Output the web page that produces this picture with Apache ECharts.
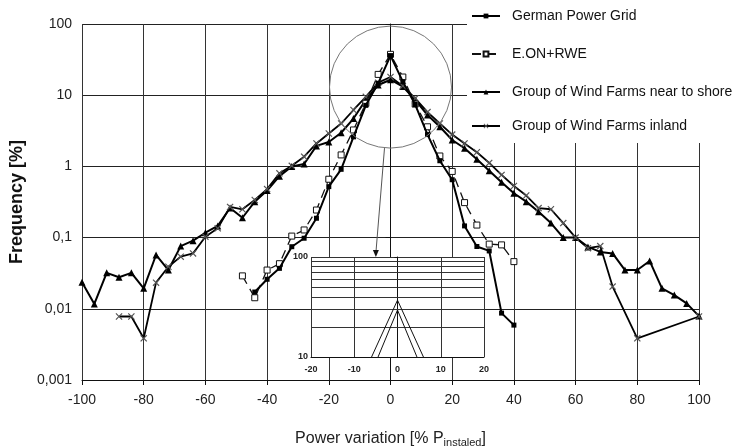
<!DOCTYPE html>
<html>
<head>
<meta charset="utf-8">
<script src="https://cdn.jsdelivr.net/npm/echarts@6/dist/echarts.min.js"></script>
<style>
  html, body { margin: 0; padding: 0; background: #fff; }
  #chart { width: 737px; height: 448px; }
</style>
</head>
<body>
<div id="chart"></div>
<script>
// x positions (% P installed) and frequencies (%)
const xGerman = [-44, -40, -36, -32, -28, -24, -20, -16, -12, -8, -4, 0, 4, 8, 12, 16, 20, 24, 28, 32, 36, 40]
const german = [0.0172, 0.026, 0.037, 0.0745, 0.098, 0.187, 0.52, 0.91, 2.6, 7.2, 14.7, 36, 15.5, 7.4, 2.8, 1.2, 0.65, 0.146, 0.075, 0.065, 0.0087, 0.0059]

const xEon = [-48, -44, -40, -36, -32, -28, -24, -20, -16, -12, -8, -4, 0, 4, 8, 12, 16, 20, 24, 28, 32, 36, 40]
const eon = [0.029, 0.0143, 0.035, 0.043, 0.105, 0.128, 0.244, 0.66, 1.45, 3.25, 7.7, 19.6, 37.5, 18, 7.5, 3.6, 1.4, 0.85, 0.31, 0.15, 0.081, 0.079, 0.046]

const xShore = [-100, -96, -92, -88, -84, -80, -76, -72, -68, -64, -60, -56, -52, -48, -44, -40, -36, -32, -28, -24, -20, -16, -12, -8, -4, 0, 4, 8, 12, 16, 20, 24, 28, 32, 36, 40, 44, 48, 52, 56, 60, 64, 68, 72, 76, 80, 84, 88, 92, 96, 100]
const shore = [0.0236, 0.0117, 0.032, 0.0277, 0.032, 0.0194, 0.057, 0.035, 0.076, 0.0906, 0.117, 0.146, 0.26, 0.19, 0.32, 0.457, 0.73, 1.0, 1.08, 1.94, 2.2, 2.97, 4.7, 8.6, 13.9, 16.5, 13.2, 8.6, 5.27, 3.6, 2.35, 1.8, 1.26, 0.87, 0.6, 0.42, 0.32, 0.23, 0.16, 0.1, 0.1, 0.074, 0.063, 0.06, 0.035, 0.035, 0.047, 0.0194, 0.0156, 0.0119, 0.0079]

const xInland = [-88, -84, -80, -76, -72, -68, -64, -60, -56, -52, -48, -44, -40, -36, -32, -28, -24, -20, -16, -12, -8, -4, 0, 4, 8, 12, 16, 20, 24, 28, 32, 36, 40, 44, 48, 52, 56, 60, 64, 68, 72, 80, 100]
const inland = [0.0078, 0.0078, 0.00385, 0.0233, 0.039, 0.054, 0.06, 0.103, 0.135, 0.27, 0.25, 0.337, 0.48, 0.8, 1.02, 1.37, 2.1, 2.9, 4.0, 6.2, 9.5, 15, 18, 13.5, 9.0, 5.8, 4.0, 2.8, 2.1, 1.58, 1.12, 0.76, 0.53, 0.39, 0.26, 0.25, 0.16, 0.1, 0.071, 0.076, 0.0205, 0.00385, 0.0078]

// zoomed inset around the peak
const xInsetA = [-6, 0, 6]
const insetA = [10, 37, 10]
const xInsetB = [-4.5, 0, 4.5]
const insetB = [10, 29.5, 10]
const insetMinor = [20, 30, 40, 50, 60, 70, 80, 90]

const yTickLabels = ['0,001', '0,01', '0,1', '1', '10', '100']
const seriesNames = ['German Power Grid', 'E.ON+RWE', 'Group of Wind Farms near to shore', 'Group of Wind Farms inland']

const FONT = 'Liberation Sans, Arial, sans-serif'
const pairs = (xs, ys) => xs.map((x, i) => [x, ys[i]])
const crossPath = 'path://M0,1.2L1.2,0L5,3.8L8.8,0L10,1.2L6.2,5L10,8.8L8.8,10L5,6.2L1.2,10L0,8.8L3.8,5Z'

const legendTops = [9, 47, 85, 119]
const legends = seriesNames.map((name, i) => ({
  data: [name],
  left: 471,
  top: legendTops[i],
  padding: 0,
  itemWidth: 28,
  itemHeight: 6,
  selectedMode: false,
  textStyle: { fontFamily: FONT, fontSize: 14, color: '#111', padding: [0, 0, 0, 7] }
}))

const chart = echarts.init(document.getElementById('chart'))
chart.setOption({
  animation: false,
  backgroundColor: '#fff',
  legend: legends,
  grid: [
    { left: 82, right: 38, top: 24, bottom: 68, outerBoundsMode: 'none' },
    { left: 311, right: 253, top: 257, bottom: 91, outerBoundsMode: 'none', show: true, backgroundColor: '#fff', borderWidth: 0, z: 3 }
  ],
  xAxis: [
    {
      type: 'value',
      min: -100,
      max: 100,
      interval: 20,
      name: 'Power variation [% P{sub|instaled}]',
      nameLocation: 'middle',
      nameGap: 49,
      nameTextStyle: {
        fontFamily: FONT,
        fontSize: 16,
        color: '#222',
        rich: { sub: { fontFamily: FONT, fontSize: 11, color: '#222', verticalAlign: 'bottom', padding: [8, 0, 0, 0] } }
      },
      axisLine: { lineStyle: { color: '#111', width: 1 } },
      axisTick: { length: 5, lineStyle: { color: '#111' } },
      axisLabel: { fontFamily: FONT, fontSize: 14, color: '#222', margin: 13 },
      splitLine: { lineStyle: { color: '#333', width: 1 } }
    },
    {
      type: 'value',
      gridIndex: 1,
      min: -20,
      max: 20,
      interval: 10,
      z: 4,
      axisLine: { lineStyle: { color: '#111', width: 1 } },
      axisTick: { show: false },
      axisLabel: { fontFamily: FONT, fontSize: 9, fontWeight: 'bold', color: '#222', margin: 8 },
      splitLine: { lineStyle: { color: '#333', width: 1 } }
    }
  ],
  yAxis: [
    {
      type: 'log',
      logBase: 10,
      min: 0.001,
      max: 100,
      name: 'Frequency [%]',
      nameLocation: 'middle',
      nameGap: 51,
      nameTextStyle: { fontFamily: FONT, fontSize: 18, fontWeight: 'bold', color: '#111' },
      axisLine: { show: true, lineStyle: { color: '#111', width: 1 } },
      axisTick: { show: true, length: 5, lineStyle: { color: '#111' } },
      axisLabel: {
        fontFamily: FONT,
        fontSize: 14,
        color: '#222',
        margin: 10,
        formatter: v => yTickLabels[Math.round(Math.log10(v)) + 3]
      },
      splitLine: { lineStyle: { color: '#222', width: 1 } }
    },
    {
      type: 'log',
      logBase: 10,
      gridIndex: 1,
      min: 10,
      max: 100,
      z: 4,
      axisLine: { show: true, lineStyle: { color: '#111', width: 1 } },
      axisTick: { show: true, length: 3, lineStyle: { color: '#111' } },
      axisLabel: { fontFamily: FONT, fontSize: 9, fontWeight: 'bold', color: '#222', margin: 3 },
      splitLine: { lineStyle: { color: '#333', width: 1 } }
    }
  ],
  series: [
    {
      name: seriesNames[0],
      type: 'line',
      data: pairs(xGerman, german),
      symbol: 'rect',
      symbolSize: 5,
      z: 5,
      lineStyle: { color: '#000', width: 2 },
      itemStyle: { color: '#000' }
    },
    {
      name: seriesNames[1],
      type: 'line',
      data: pairs(xEon, eon),
      symbol: 'rect',
      symbolSize: 6,
      z: 4,
      lineStyle: { color: '#111', width: 1.3, type: [9, 6] },
      itemStyle: { color: '#fff', borderColor: '#111', borderWidth: 1 }
    },
    {
      name: seriesNames[2],
      type: 'line',
      data: pairs(xShore, shore),
      symbol: 'triangle',
      symbolSize: 7,
      z: 3,
      lineStyle: { color: '#000', width: 2 },
      itemStyle: { color: '#000' }
    },
    {
      name: seriesNames[3],
      type: 'line',
      data: pairs(xInland, inland),
      symbol: crossPath,
      symbolSize: 7,
      z: 3,
      lineStyle: { color: '#000', width: 1.8 },
      itemStyle: { color: '#555' }
    },
    {
      type: 'line',
      xAxisIndex: 1,
      yAxisIndex: 1,
      data: pairs(xInsetA, insetA),
      showSymbol: false,
      z: 6,
      lineStyle: { color: '#111', width: 1 },
      markLine: {
        silent: true,
        symbol: 'none',
        label: { show: false },
        lineStyle: { color: '#333', width: 1, type: 'solid' },
        data: insetMinor.map(v => ({ yAxis: v }))
      }
    },
    {
      type: 'line',
      xAxisIndex: 1,
      yAxisIndex: 1,
      data: pairs(xInsetB, insetB),
      showSymbol: false,
      z: 6,
      lineStyle: { color: '#111', width: 1 }
    }
  ]
})

// circle round the peak and arrow down to the inset
const c = chart.convertToPixel({ gridIndex: 0 }, [0, 13])
const r = 61
const tip = chart.convertToPixel({ gridIndex: 1 }, [-5, 100])
const start = [c[0] - 6, c[1] + r]
chart.setOption({
  graphic: [
    { type: 'rect', z: 3, shape: { x: 467, y: 0, width: 270, height: 143 }, style: { fill: '#fff' } },
    { type: 'circle', z: 6, shape: { cx: c[0], cy: c[1], r: r }, style: { fill: 'none', stroke: '#777', lineWidth: 1 } },
    { type: 'line', z: 6, shape: { x1: start[0], y1: start[1], x2: tip[0], y2: tip[1] - 4 }, style: { stroke: '#555', lineWidth: 1 } },
    {
      type: 'polygon',
      z: 6,
      shape: { points: [[tip[0] - 3, tip[1] - 7], [tip[0] + 3, tip[1] - 7], [tip[0], tip[1]]] },
      style: { fill: '#111' }
    }
  ]
})
</script>
</body>
</html>
